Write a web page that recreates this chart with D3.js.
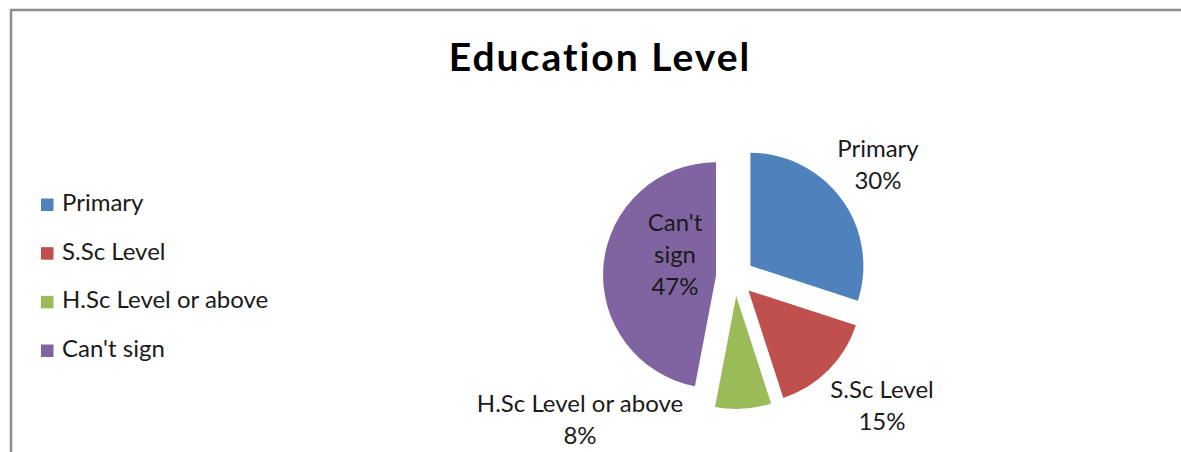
<!DOCTYPE html>
<html>
<head>
<meta charset="utf-8">
<script src="https://cdn.jsdelivr.net/npm/d3@7"></script>
<style>
  html, body { margin: 0; padding: 0; background: #fff; }
  svg { display: block; }
  text { font-family: Lato, "Open Sans", sans-serif; fill: #1a1a1a; font-variant-ligatures: none; }
</style>
</head>
<body>
<svg id="chart" width="1181" height="452"></svg>
<script>
// Education level breakdown (percent of respondents)
const categories = ["Primary", "S.Sc Level", "H.Sc Level or above", "Can't sign"];
const shares = [30, 15, 8, 47];
const colors = ["#4F81BD", "#C0504D", "#9BBB59", "#8064A2"];
const title = "Education Level";

const W = 1181, H = 452;
const svg = d3.select("#chart");

// chart frame (top and left edges)
svg.append("path")
  .attr("d", d3.line()([[11, H], [11, 10], [W, 10]]))
  .attr("fill", "none")
  .attr("stroke", "#8c8c8c")
  .attr("stroke-width", 2.5);

// title
svg.append("text")
  .attr("x", 600).attr("y", 71)
  .attr("text-anchor", "middle")
  .style("font-weight", "bold")
  .style("font-size", "39px")
  .style("letter-spacing", "2px")
  .style("fill", "#000")
  .text(title);

// legend
const legendY = d3.scalePoint().domain(categories).range([211, 357]);
const legend = svg.append("g");
categories.forEach((c, i) => {
  const y = legendY(c);
  legend.append("rect")
    .attr("x", 41).attr("y", y - 12.5)
    .attr("width", 12.5).attr("height", 12.5)
    .attr("fill", colors[i]);
  legend.append("text")
    .attr("x", 62).attr("y", y)
    .style("font-size", "24px")
    .text(c);
});

// exploded pie
const cx = 735, cy = 277, r = 113, explode = 19;
const pie = d3.pie().sort(null).value(d => d)(shares);
const arc = d3.arc().innerRadius(0).outerRadius(r);
const offset = d => {
  const a = (d.startAngle + d.endAngle) / 2;
  return [explode * Math.sin(a), -explode * Math.cos(a)];
};

const g = svg.append("g").attr("transform", `translate(${cx},${cy})`);
g.selectAll("path.slice")
  .data(pie)
  .join("path")
  .attr("class", "slice")
  .attr("d", arc)
  .attr("fill", (d, i) => colors[i])
  .attr("transform", d => `translate(${offset(d)})`);

// data labels: category name and percentage
const labelPos = [
  { x: 878, y: 157, lines: [categories[0], shares[0] + "%"] },
  { x: 882, y: 398, lines: [categories[1], shares[1] + "%"] },
  { x: 580, y: 412, lines: [categories[2], shares[2] + "%"] },
  { x: 675, y: 231, lines: ["Can't", "sign", shares[3] + "%"] }
];
labelPos.forEach(l => {
  const t = svg.append("text")
    .attr("text-anchor", "middle")
    .style("font-size", "24px");
  l.lines.forEach((s, j) => {
    t.append("tspan").attr("x", l.x).attr("y", l.y + j * 32).text(s);
  });
});
</script>
</body>
</html>
